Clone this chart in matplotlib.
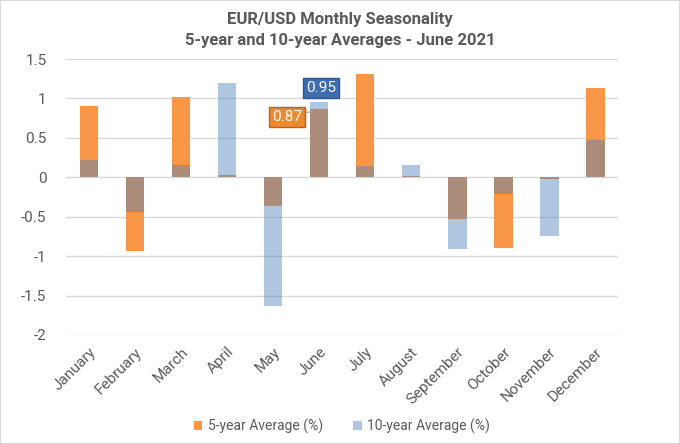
import matplotlib
matplotlib.use("Agg")
import matplotlib.pyplot as plt
import numpy as np
from matplotlib.patches import Rectangle

plt.rcParams['font.family'] = ['Roboto', 'DejaVu Sans']

months = ["January", "February", "March", "April", "May", "June",
          "July", "August", "September", "October", "November", "December"]
avg_5y = [0.90, -0.94, 1.02, 0.03, -0.37, 0.87, 1.31, 0.02, -0.53, -0.90, -0.02, 1.13]
avg_10y = [0.22, -0.44, 0.15, 1.20, -1.63, 0.95, 0.14, 0.16, -0.91, -0.21, -0.74, 0.47]
yticks = [-2, -1.5, -1, -0.5, 0, 0.5, 1, 1.5]
ytick_labels = ["-2", "-1.5", "-1", "-0.5", "0", "0.5", "1", "1.5"]

orange = "#F79646"
blue = "#4F81BD"
grey_txt = "#595959"

fig = plt.figure(figsize=(6.8, 4.44), dpi=100)
ax = fig.add_axes([0.097, 0.2455, 0.812, 0.6215])

x = np.arange(len(months))
w = 0.41
ax.bar(x, avg_5y, width=w, color=orange, label="5-year Average (%)", zorder=2)
ax.bar(x, avg_10y, width=w, color=blue, alpha=0.45, label="10-year Average (%)", zorder=3)

ax.set_xlim(-0.5, 11.5)
ax.set_ylim(-2, 1.5)
ax.set_yticks(yticks)
ax.set_yticklabels(ytick_labels, fontsize=11, color=grey_txt)
ax.set_xticks(x)
ax.set_xticklabels(months, rotation=45, ha="right", rotation_mode="anchor",
                   fontsize=11, color=grey_txt)
ax.tick_params(length=0, pad=7)
ax.tick_params(axis="y", pad=14)
ax.grid(axis="y", color="#D9D9D9", linewidth=1, zorder=0)
for s in ax.spines.values():
    s.set_visible(False)

# data labels for June
ax.annotate("0.95", xy=(5, avg_10y[5]), xytext=(5.05, 1.13), color="white",
            fontsize=11, ha="center", va="center", zorder=5,
            bbox=dict(boxstyle="square,pad=0.2", fc="#3E6DAF", ec="#2F5590", lw=1))
ax.annotate("0.87", xy=(4.88, 0.84), xytext=(4.3, 0.77), color="white",
            fontsize=11, ha="center", va="center", zorder=5,
            bbox=dict(boxstyle="square,pad=0.2", fc="#F0882E", ec="#B8621C", lw=1),
            arrowprops=dict(arrowstyle="-", color="#A6A6A6", lw=0.8,
                            shrinkA=0, shrinkB=0))

fig.text(0.5, 0.957, "EUR/USD Monthly Seasonality", ha="center", va="center",
         fontsize=12, color=grey_txt, fontweight="bold")
fig.text(0.5, 0.908, "5-year and 10-year Averages - June 2021", ha="center", va="center",
         fontsize=12, color=grey_txt, fontweight="bold")

fig.legend(loc="center", bbox_to_anchor=(0.503, 0.04), ncol=2, frameon=False,
           fontsize=10, handlelength=0.6, handleheight=0.6, columnspacing=2.2,
           handletextpad=0.4, labelcolor=grey_txt)

fig.patches.append(Rectangle((0, 0), 1, 1, transform=fig.transFigure, fill=False,
                             ec="#D9D9D9", lw=1.5, zorder=10))

fig.savefig("out.png", dpi=100)
